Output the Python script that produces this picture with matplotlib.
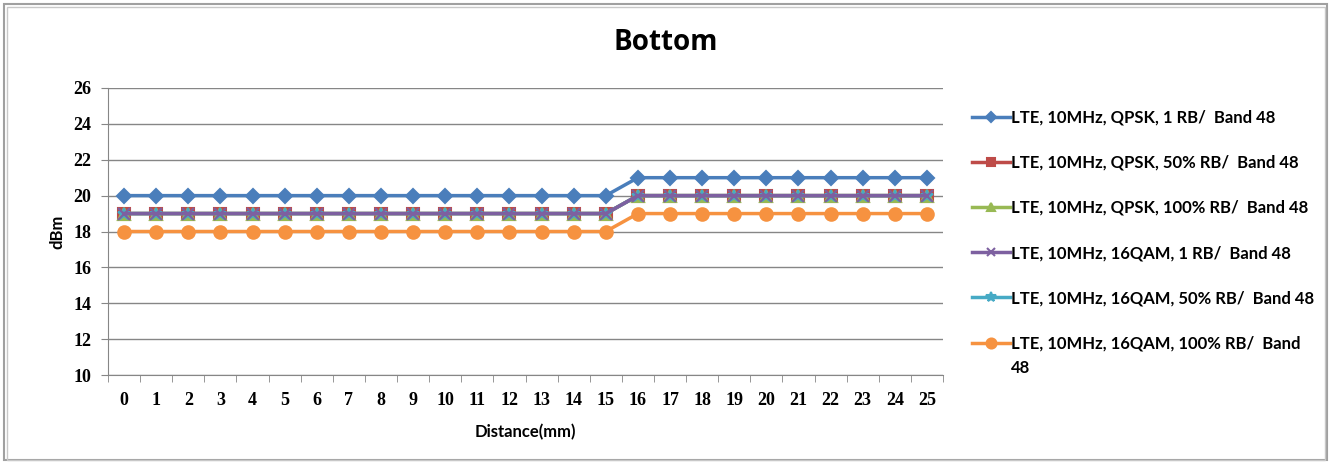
"""Bottom: LTE Band 48 power vs distance."""

import matplotlib
matplotlib.use("Agg")
import matplotlib.pyplot as plt
import matplotlib.patches as mpatches
from matplotlib.ticker import FixedLocator

distance = list(range(26))
series_labels = [
    "LTE, 10MHz, QPSK, 1 RB/  Band 48",
    "LTE, 10MHz, QPSK, 50% RB/  Band 48",
    "LTE, 10MHz, QPSK, 100% RB/  Band 48",
    "LTE, 10MHz, 16QAM, 1 RB/  Band 48",
    "LTE, 10MHz, 16QAM, 50% RB/  Band 48",
    "LTE, 10MHz, 16QAM, 100% RB/  Band\n48",
]
qpsk_1rb = [20] * 16 + [21] * 10
qpsk_50rb = [19] * 16 + [20] * 10
qpsk_100rb = [19] * 16 + [20] * 10
qam16_1rb = [19] * 16 + [20] * 10
qam16_50rb = [19] * 16 + [20] * 10
qam16_100rb = [18] * 16 + [19] * 10
y_ticks = [10, 12, 14, 16, 18, 20, 22, 24, 26]

values = [qpsk_1rb, qpsk_50rb, qpsk_100rb, qam16_1rb, qam16_50rb, qam16_100rb]
colors = ["#4A7EBB", "#BE4B48", "#98B954", "#7D60A0", "#46AAC5", "#F69240"]
markers = ["D", "s", "^", "x", "*", "o"]
sizes = [7, 8, 8, 8, 9, 9]
zorders = [6, 3, 4, 5.5, 5, 6]

fig = plt.figure(figsize=(13.32, 4.62), dpi=100)
ax = fig.add_axes([108 / 1332, 1 - 375 / 462, (943 - 108) / 1332, (375 - 88) / 462])

for vals, lab, col, mk, ms, zo in zip(values, series_labels, colors, markers, sizes, zorders):
    # legend shows first line only; wrapped remainder is drawn below it
    ax.plot(distance, vals, color=col, lw=2.5, marker=mk, ms=ms,
            mec=col, mew=1.5, label=lab.split("\n")[0], zorder=zo)

ax.set_xlim(-0.5, 25.5)
ax.set_ylim(10, 26)
ax.set_yticks(y_ticks)
ax.set_xticks(distance)
ax.xaxis.set_minor_locator(FixedLocator([i - 0.5 for i in range(27)]))
ax.tick_params(axis="x", which="major", length=0, pad=12)
ax.tick_params(axis="x", which="minor", length=5, color="#868686", direction="out")
ax.tick_params(axis="y", length=5, color="#868686", direction="out", pad=7)
for lbl in ax.get_xticklabels() + ax.get_yticklabels():
    lbl.set_fontfamily("Liberation Serif")
    lbl.set_fontweight("bold")
    lbl.set_fontsize(13)

ax.grid(axis="y", color="#868686", lw=1)
ax.set_axisbelow(True)
for side in ["top", "right"]:
    ax.spines[side].set_visible(False)
ax.spines["left"].set_color("#868686")
ax.spines["bottom"].set_color("#868686")

ax.set_xlabel("Distance(mm)", fontfamily="Lato", fontweight="bold", fontsize=12, labelpad=11)
ax.set_ylabel("dBm", fontfamily="Lato", fontweight="bold", fontsize=12, labelpad=6)
fig.text(0.5, 1 - 42 / 462, "Bottom", ha="center", va="center",
         fontfamily="Open Sans", fontweight="bold", fontsize=20)

leg_font = {"family": "Lato", "weight": "bold", "size": 12}
leg = fig.legend(loc="upper left", bbox_to_anchor=(965 / 1332, 1 - 103 / 462),
                 frameon=False, handlelength=2.3, handletextpad=0.05,
                 labelspacing=1.75, borderaxespad=0, markerscale=0.8,
                 prop=leg_font)

# wrapped tail of the last legend label
fig.canvas.draw()
for lab, txt in zip(series_labels, leg.get_texts()):
    if "\n" in lab:
        bb = txt.get_window_extent()
        fig.text(bb.x0 / 1332, (bb.y0 - 25) / 462, lab.split("\n", 1)[1],
                 ha="left", va="bottom", **leg_font)

# chart border
fig.patches.append(mpatches.Rectangle((4 / 1332, 2 / 462), 1323 / 1332, 456 / 462,
                                      transform=fig.transFigure, fill=False,
                                      edgecolor="#A0A0A0", lw=1.5))
fig.patches.append(mpatches.Rectangle((7 / 1332, 2 / 462), 1318 / 1332, 453 / 462,
                                      transform=fig.transFigure, fill=False,
                                      edgecolor="#C8C8C8", lw=1))

fig.savefig("out.png", dpi=100)
